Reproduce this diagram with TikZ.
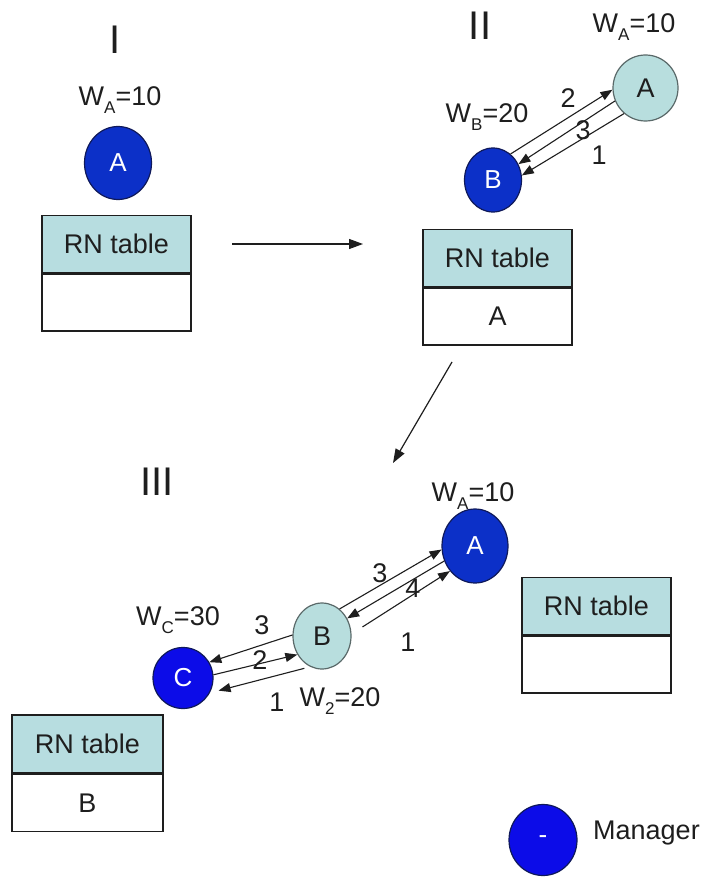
\documentclass[tikz,border=0pt]{standalone}
\usepackage{fontspec}
\setmainfont{Liberation Sans}
\usetikzlibrary{shapes.geometric,arrows.meta}

\definecolor{headfill}{RGB}{183,221,224}
\definecolor{palenode}{RGB}{184,222,222}
\definecolor{royal}{RGB}{12,48,200}
\definecolor{pureblue}{RGB}{12,12,232}
\definecolor{inkgray}{RGB}{30,30,30}
\definecolor{navyline}{RGB}{15,25,90}
\definecolor{paleline}{RGB}{90,105,105}

% subscript for the weight labels
\newcommand{\wsub}[1]{\raisebox{-0.28em}{\fontsize{17}{17}\selectfont #1}}

\tikzset{
  x=1pt, y=-1pt,
  txt/.style={font=\fontsize{27}{30}\selectfont, text=inkgray, inner sep=0pt},
  roman/.style={font=\fontsize{40}{44}\selectfont, text=inkgray, inner sep=0pt},
  mgr/.style={ellipse, draw=navyline, line width=1.2pt, fill=royal, text=white,
    font=\fontsize{26}{28}\selectfont, inner sep=0pt},
  mgrc/.style={mgr, fill=pureblue},
  member/.style={ellipse, draw=paleline, line width=1.2pt, fill=palenode, text=inkgray,
    font=\fontsize{27}{30}\selectfont, inner sep=0pt},
  tabhead/.style={rectangle, draw=inkgray, line width=1.5pt, fill=headfill,
    minimum width=149pt, minimum height=57pt, inner sep=0pt,
    font=\fontsize{27}{30}\selectfont, text=inkgray},
  tabbody/.style={rectangle, draw=inkgray, line width=1.5pt, fill=white,
    minimum width=149pt, minimum height=57pt, inner sep=0pt, anchor=north,
    font=\fontsize{27}{30}\selectfont, text=inkgray},
  msg/.style={line width=1.1pt, draw=inkgray,
    -{Triangle[length=12pt,width=9pt]}},
  flow/.style={line width=1.2pt, draw=inkgray,
    -{Triangle[length=14pt,width=10pt]}},
}

\begin{document}
\begin{tikzpicture}
\useasboundingbox[fill=white] (0,0) rectangle (707,877);

% ---------- stage I ----------
\node[roman] (rI) at (115,40) {I};
\node[txt] (wI) at (120,100) {W\wsub{A}=10};
\node[mgr, minimum width=67pt, minimum height=73pt] (A1) at (118,163) {A};
\node[tabhead] (h1) at (116.5,244) {RN table};
\node[tabbody] (b1) at (h1.south) {};

% ---------- stage II ----------
\node[roman] (rII) at (480,26) {II};
\node[txt] (wA2) at (634,27) {W\wsub{A}=10};
\node[member, minimum width=65pt, minimum height=66pt] (A2) at (645.5,88) {A};
\node[txt] (wB2) at (487,117) {W\wsub{B}=20};
\node[mgr, minimum width=57pt, minimum height=64pt] (B2) at (493,180) {B};
\node[tabhead] (h2) at (497.5,258) {RN table};
\node[tabbody] (b2) at (h2.south) {A};

\draw[msg] (B2.56) -- (A2.183);
\draw[msg] (A2.203) -- (B2.32);
\draw[msg] (A2.230) -- (B2.9);
\node[txt] (n2a) at (568,98) {2};
\node[txt] (n2b) at (583,130) {3};
\node[txt] (n2c) at (599,155) {1};

% ---------- stage III ----------
\node[roman] (rIII) at (157,482) {III};
\node[txt] (wA3) at (473,496) {W\wsub{A}=10};
\node[mgr, minimum width=66pt, minimum height=74pt] (A3) at (475,546) {A};
\node[member, minimum width=58pt, minimum height=66pt] (B3) at (322,636) {B};
\node[txt] (wC3) at (178,620) {W\wsub{C}=30};
\node[mgrc, minimum width=60pt, minimum height=61pt] (C3) at (183,678) {C};
\node[txt] (w23) at (340,701) {W\wsub{2}=20};

\draw[msg] (B3.57) -- (A3.186);
\draw[msg] (A3.206) -- (B3.35);
\draw[msg, shorten <=13pt] (B3.4) -- (A3.225);
\node[txt] (n3a) at (380,573) {3};
\node[txt] (n3b) at (413,588) {4};
\node[txt] (n3c) at (408,642) {1};

\draw[msg] (B3.178) -- (C3.31);
\draw[msg] (C3.6) -- (B3.217);
\draw[msg, shorten <=6pt, shorten >=9pt] (B3.249) -- (C3.331);
\node[txt] (n3d) at (262,625) {3};
\node[txt] (n3e) at (260,660) {2};
\node[txt] (n3f) at (277,702) {1};

\node[tabhead] (h3) at (596.5,606) {RN table};
\node[tabbody] (b3) at (h3.south) {};
\node[tabhead, minimum width=151pt, minimum height=58pt] (h4) at (87.5,744) {RN table};
\node[tabbody, minimum width=151pt] (b4) at (h4.south) {B};

% ---------- stage transitions ----------
\coordinate (f1s) at (232,244);
\coordinate (f1e) at (363,244);
\coordinate (f2s) at (452,362);
\coordinate (f2e) at (393,463);
\draw[flow] (f1s) -- (f1e);
\draw[flow] (f2s) -- (f2e);

% ---------- legend ----------
\node[mgrc, minimum width=68pt, minimum height=71pt] (key) at (543,840) {-};
\node[txt, anchor=west] (keytxt) at (593,833) {Manager};
\end{tikzpicture}
\end{document}
